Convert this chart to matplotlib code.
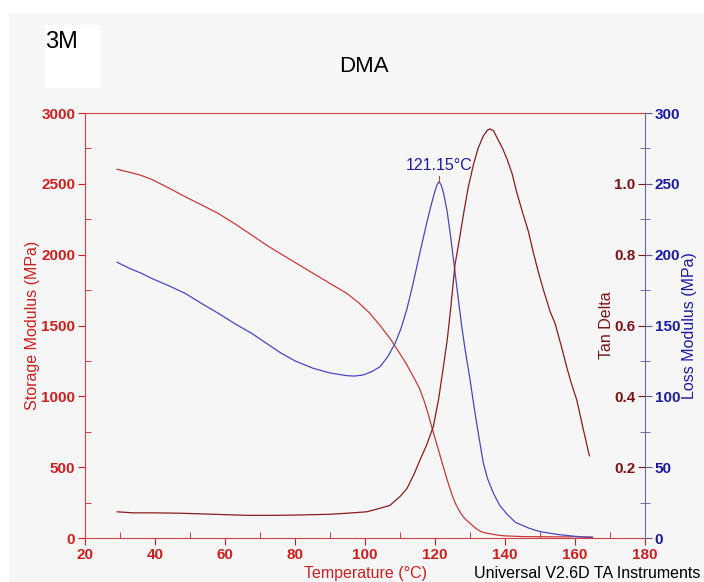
import matplotlib.pyplot as plt
from matplotlib.patches import Rectangle
from matplotlib.ticker import MultipleLocator, FormatStrFormatter

plt.rcParams['font.family'] = ['Liberation Sans', 'DejaVu Sans']

# storage modulus (MPa)
temp_storage = [29.2, 33, 36, 39, 44, 48.6, 53, 58, 63, 67.6, 72, 77, 81, 85.2, 90, 94.8,
                98, 101.4, 104.3, 107.1, 109.5, 111.9, 113.8, 115.5, 117, 118, 119, 120,
                121, 122, 123, 124, 125, 126, 127, 128, 129, 130, 131, 132, 133, 134,
                135.7, 138, 140, 145, 150, 155, 160, 165]
storage = [2603, 2580, 2560, 2532, 2470, 2409, 2355, 2292, 2215, 2139, 2065, 1990, 1930,
           1868, 1797, 1727, 1665, 1586, 1500, 1410, 1320, 1225, 1139, 1060, 960, 880,
           790, 705, 620, 535, 450, 370, 295, 235, 190, 152, 125, 104, 82, 62, 47, 38,
           30, 20, 15, 10, 9, 8, 8, 7]

# loss modulus (MPa)
temp_loss = [29.2, 33, 36, 39, 44, 48.6, 53, 58.1, 63, 67.6, 73.3, 75.7, 80, 85.2, 90,
             94.8, 97, 99.5, 102, 104.3, 106.5, 108.6, 110.3, 111.9, 113.4, 114.8, 116.2,
             117.6, 119, 120, 120.6, 121.15, 121.8, 122.5, 123.5, 124.5, 125.6, 126.7,
             127.6, 128.6, 130, 131.2, 132.5, 133.8, 135, 136.7, 138.5, 140.5, 143, 147,
             150, 155, 160, 163.3, 165]
loss = [194.6, 190, 187, 183.3, 178, 172.7, 166, 158.6, 151, 144.5, 135, 131, 125,
        119.8, 116.5, 114.6, 114.3, 115.1, 117.5, 120.9, 128, 137.4, 148, 161, 176, 191.5,
        207, 222, 236, 245, 249.5, 251.5, 249, 243, 230, 212, 190, 168, 150, 133, 112, 92,
        72, 53, 42, 31.5, 23, 17, 11, 6.8, 4.5, 2.5, 1.2, 0.5, 0.3]

# tan delta
temp_tan = [29.2, 33.8, 40, 47.1, 56.6, 66.2, 75, 81.4, 90, 95, 100.5, 104.3, 107.1, 110,
            112, 114, 115.7, 117.5, 119.5, 121, 122.4, 123.5, 124.5, 125.7, 127, 128.1,
            129.5, 130.95, 132.3, 133.8, 135, 135.7, 136.7, 138, 139.3, 140.5, 142, 143.3,
            145, 146.7, 148, 149.5, 151, 152.9, 154.3, 156, 157.6, 159, 160.5, 162.3, 164.1]
tan_delta = [0.074, 0.071, 0.071, 0.070, 0.067, 0.064, 0.064, 0.065, 0.067, 0.070, 0.074,
             0.084, 0.092, 0.117, 0.14, 0.18, 0.22, 0.26, 0.314, 0.39, 0.484, 0.56, 0.65,
             0.771, 0.845, 0.912, 0.99, 1.053, 1.10, 1.135, 1.152, 1.155, 1.15, 1.125, 1.10,
             1.072, 1.03, 0.978, 0.92, 0.865, 0.81, 0.752, 0.70, 0.639, 0.606, 0.545, 0.484,
             0.435, 0.39, 0.31, 0.232]

peak_temp = 121.15
peak_loss = 251.5

red = '#cc1f1f'
maroon = '#7a1414'
blue = '#1c1ca0'

fig = plt.figure(figsize=(7.04, 5.82), dpi=100, facecolor='white')
fig.patches.append(Rectangle((9/704, 0), 1, 1 - 13/582, transform=fig.transFigure,
                             facecolor='#f6f6f6', edgecolor='none', zorder=-10))
fig.patches.append(Rectangle((45/704, 1 - 88/582), 55/704, 63/582, transform=fig.transFigure,
                             facecolor='white', edgecolor='none', zorder=-9))

ax = fig.add_axes([85/704, 44/582, 560/704, 425/582])
ax.set_facecolor('none')
ax.plot(temp_storage, storage, color='#c83a3a', lw=0.9)
ax.set_xlim(20, 180)
ax.set_ylim(0, 3000)
ax.xaxis.set_major_locator(MultipleLocator(20))
ax.xaxis.set_minor_locator(MultipleLocator(10))
ax.yaxis.set_major_locator(MultipleLocator(500))
ax.yaxis.set_minor_locator(MultipleLocator(250))
ax.tick_params(which='major', direction='out', length=5, color=red, labelcolor=red,
               labelsize=11, pad=2)
ax.tick_params(which='minor', direction='in', length=4, color=red)
for lab in ax.get_xticklabels() + ax.get_yticklabels():
    lab.set_fontweight('bold')
for s in ['left', 'bottom', 'top']:
    ax.spines[s].set_color('#d04040')
ax.spines['right'].set_visible(False)
ax.set_xlabel('Temperature (°C)', color=red, fontsize=11.5, labelpad=3)
ax.set_ylabel('Storage Modulus (MPa)', color=red, fontsize=11.5, labelpad=1)

# loss modulus on the right
ax2 = ax.twinx()
ax2.set_facecolor('none')
ax2.plot(temp_loss, loss, color='#4848bc', lw=0.9)
ax2.plot([peak_temp, peak_temp], [peak_loss, peak_loss + 4], color='#c04040', lw=0.8)
ax2.text(peak_temp, 263, '121.15°C', color=blue, fontsize=11.5, ha='center', va='center')
ax2.set_ylim(0, 300)
ax2.yaxis.set_major_locator(MultipleLocator(50))
ax2.yaxis.set_minor_locator(MultipleLocator(25))
ax2.tick_params(axis='y', which='major', direction='out', length=5, color='#5a5aa0',
                labelcolor=blue, labelsize=11, pad=2)
ax2.tick_params(axis='y', which='minor', direction='inout', length=7, color='#5a5aa0')
for lab in ax2.get_yticklabels():
    lab.set_fontweight('bold')
for s in ['left', 'bottom', 'top']:
    ax2.spines[s].set_visible(False)
ax2.spines['right'].set_color('#6a6aa8')
ax2.set_ylabel('Loss Modulus (MPa)', color=blue, fontsize=11.5, labelpad=1)

# tan delta, ticks on the same right spine but labels inside
ax3 = ax.twinx()
ax3.set_facecolor('none')
ax3.plot(temp_tan, tan_delta, color='#8a1c1c', lw=0.9)
ax3.set_ylim(0, 1.2)
ax3.spines['left'].set_position(('axes', 1.0))
ax3.yaxis.set_ticks_position('left')
ax3.yaxis.set_label_position('left')
for s in ['left', 'right', 'bottom', 'top']:
    ax3.spines[s].set_visible(False)
ax3.set_yticks([0.2, 0.4, 0.6, 0.8, 1.0])
ax3.yaxis.set_major_formatter(FormatStrFormatter('%.1f'))
ax3.tick_params(axis='y', direction='out', length=5, color=maroon, labelcolor=maroon,
                labelsize=11, pad=2)
for lab in ax3.get_yticklabels():
    lab.set_fontweight('bold')
ax3.set_ylabel('Tan Delta', color=maroon, fontsize=11.5, labelpad=0)

fig.text(45/704, 1 - 42/582, '3M', fontsize=17, va='center', ha='left')
fig.text(364/704, 1 - 66/582, 'DMA', fontsize=16, va='center', ha='center')
fig.text(700/704, 1 - 574/582, 'Universal V2.6D TA Instruments', fontsize=11.5,
         va='center', ha='right')

fig.savefig('out.png', dpi=100, facecolor=fig.get_facecolor())
